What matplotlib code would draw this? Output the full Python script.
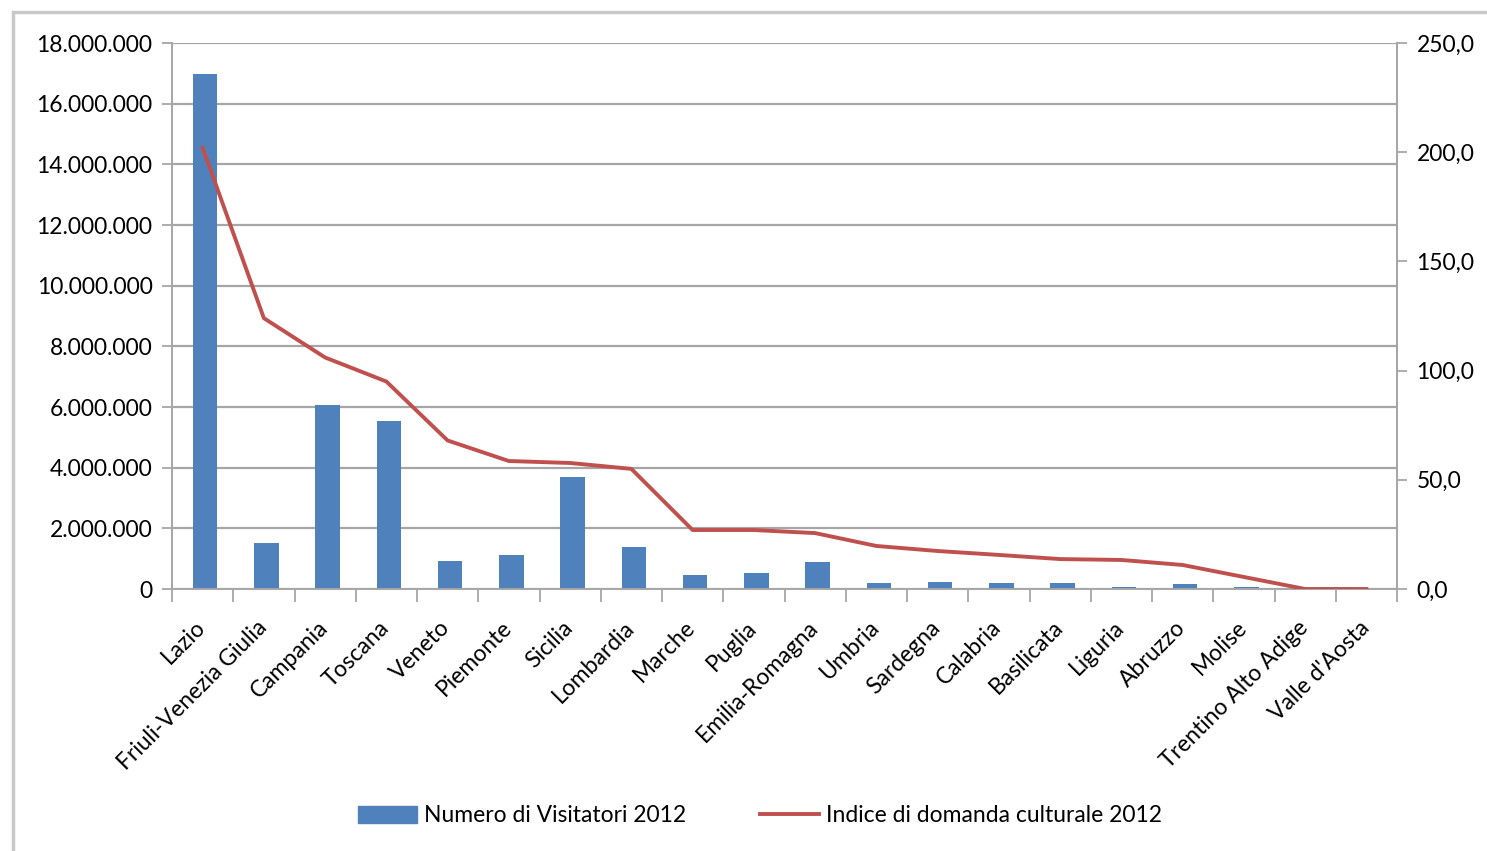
import matplotlib.pyplot as plt
import matplotlib.transforms as mtrans
import numpy as np
from matplotlib.lines import Line2D
from matplotlib.patches import Patch, Rectangle
from matplotlib.ticker import FuncFormatter, FixedLocator

plt.rcParams['font.family'] = ['Lato', 'DejaVu Sans']

regions = ['Lazio', 'Friuli-Venezia Giulia', 'Campania', 'Toscana', 'Veneto', 'Piemonte',
           'Sicilia', 'Lombardia', 'Marche', 'Puglia', 'Emilia-Romagna', 'Umbria',
           'Sardegna', 'Calabria', 'Basilicata', 'Liguria', 'Abruzzo', 'Molise',
           'Trentino Alto Adige', "Valle d'Aosta"]
visitors = [16980000, 1520000, 6070000, 5540000, 920000, 1120000, 3690000, 1380000,
            460000, 530000, 890000, 210000, 240000, 210000, 210000, 80000, 160000,
            80000, 0, 0]
demand_index = [202, 124, 106, 95, 68, 58.6, 57.7, 55, 27, 27, 25.6, 19.7, 17.4,
                15.6, 13.7, 13.3, 11, 5.5, 0, 0]

blue = '#4f81bd'
red = '#c0504d'
grid_c = '#a6a6a6'
fs = 16.5

fig = plt.figure(figsize=(14.87, 8.51), dpi=100)
ax = fig.add_axes([172 / 1487, 1 - 589 / 851, 1225 / 1487, 546 / 851])
x = np.arange(len(regions))

ax.bar(x + 0.04, visitors, width=0.4, color=blue, zorder=2)
ax.set_xlim(-0.5, len(regions) - 0.5)
ax.set_ylim(0, 18000000)
ax.set_yticks(np.arange(0, 18000001, 2000000))
ax.yaxis.set_major_formatter(FuncFormatter(lambda v, p: f'{int(v):,}'.replace(',', '.')))
ax.grid(axis='y', color=grid_c, linewidth=1.6, zorder=0)
ax.set_axisbelow(True)

ax.set_xticks(x)
ax.set_xticklabels(regions, rotation=45, ha='right', rotation_mode='anchor', fontsize=fs)
ax.tick_params(axis='x', length=0, pad=20)
shift = mtrans.ScaledTranslation(-8 / 100, 0, fig.dpi_scale_trans)
for lbl in ax.get_xticklabels():
    lbl.set_transform(lbl.get_transform() + shift)
ax.xaxis.set_minor_locator(FixedLocator(np.arange(-0.5, len(regions), 1)))
ax.tick_params(axis='x', which='minor', length=9, width=1.3, color=grid_c)
ax.tick_params(axis='y', length=7, width=1.3, color=grid_c, labelsize=fs, pad=7)

ax.spines['top'].set_visible(False)
for s in ['left', 'right', 'bottom']:
    ax.spines[s].set_color(grid_c)
    ax.spines[s].set_linewidth(1.4)

ax2 = ax.twinx()
ax2.plot(x, demand_index, color=red, linewidth=2.8, zorder=3)
ax2.set_ylim(0, 250)
ax2.set_yticks(np.arange(0, 251, 50))
ax2.yaxis.set_major_formatter(FuncFormatter(lambda v, p: f'{v:.1f}'.replace('.', ',')))
ax2.tick_params(axis='y', length=7, width=1.3, color=grid_c, labelsize=fs, pad=7)
for s in ['top', 'left', 'bottom']:
    ax2.spines[s].set_visible(False)
ax2.spines['right'].set_color(grid_c)
ax2.spines['right'].set_linewidth(1.4)

handles = [Patch(color=blue), Line2D([0], [0], color=red, linewidth=2.8)]
fig.legend(handles, ['Numero di Visitatori 2012', 'Indice di domanda culturale 2012'],
           loc='center', bbox_to_anchor=(760 / 1487, 1 - 816 / 851), ncol=2, frameon=False,
           fontsize=fs, handlelength=2.6, handletextpad=0.3, columnspacing=3.2)

# outer chart frame
fig.patches.append(Rectangle((13 / 1487, -0.05), 1.1, 1 - 12 / 851 + 0.05,
                             transform=fig.transFigure, fill=False,
                             edgecolor='#c8c8c8', linewidth=2.5))

fig.savefig('out.png', dpi=100)
